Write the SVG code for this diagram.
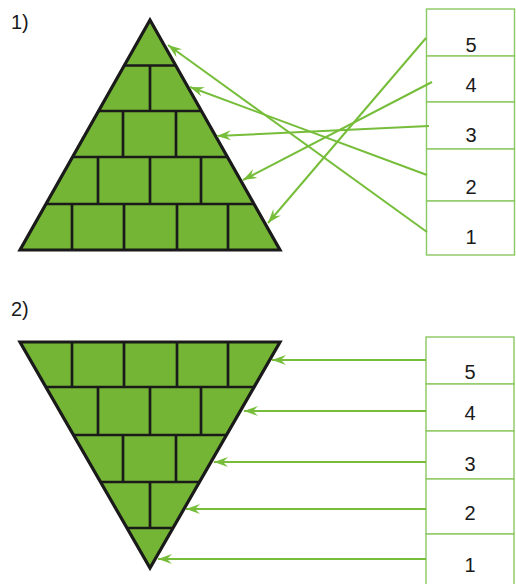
<svg xmlns="http://www.w3.org/2000/svg" width="516" height="584" viewBox="0 0 516 584">
<style>
.tri{fill:#74b535;stroke:#1a1a1a;stroke-width:3.2;stroke-linejoin:miter}
.brick{stroke:#1a1a1a;stroke-width:2.7;fill:none}
.con{stroke:#76bd3a;stroke-width:2;fill:none;marker-end:url(#ah)}
.cell{fill:#ffffff;stroke:#8cc862;stroke-width:1.4}
.lbl{font-family:"Liberation Sans",Arial,sans-serif;font-size:20px;fill:#1a1a1a;text-anchor:middle}
.num{font-family:"Liberation Sans",Arial,sans-serif;font-size:20px;fill:#1a1a1a}
</style>
<defs>
<marker id="ah" markerUnits="userSpaceOnUse" markerWidth="16" markerHeight="12" refX="14" refY="5" orient="auto">
<path d="M0,0 L14,5 L0,10 L5,5 Z" fill="#76bd3a"/>
</marker>
</defs>
<rect width="516" height="584" fill="#ffffff"/>
<text class="num" x="11" y="29">1)</text>
<text class="num" x="11" y="316">2)</text>
<g id="pyramid1">
<polygon class="tri" points="150,20 280,250 20,250"/>
<path class="brick" d="M124.6,65.5 H175.4 M98.6,111 H201.4 M72.4,157 H227.6 M46,204 H254 M150,65.5 V111 M123,111 V157 M176,111 V157 M98,157 V204 M150,157 V204 M201,157 V204 M72,204 V250 M124,204 V250 M177,204 V250 M228,204 V250"/>
</g>
<g id="pyramid2">
<polygon class="tri" points="20,342 280,342 150,568"/>
<path class="brick" d="M45.9,387 H254.1 M73.5,435 H226.5 M100.5,482 H199.5 M127,528 H173 M72,342 V387 M124,342 V387 M177,342 V387 M228,342 V387 M98,387 V435 M150,387 V435 M201,387 V435 M123,435 V482 M176,435 V482 M150,482 V528"/>
</g>
<g id="table1">
<rect class="cell" x="426.5" y="9" width="88" height="47"/>
<rect class="cell" x="426.5" y="56" width="88" height="46"/>
<rect class="cell" x="426.5" y="102" width="88" height="47"/>
<rect class="cell" x="426.5" y="149" width="88" height="52"/>
<rect class="cell" x="426.5" y="201" width="88" height="54"/>
<text class="lbl" x="471" y="52">5</text>
<text class="lbl" x="471" y="92">4</text>
<text class="lbl" x="471" y="142">3</text>
<text class="lbl" x="471" y="194">2</text>
<text class="lbl" x="471" y="244">1</text>
</g>
<g id="table2">
<rect class="cell" x="426" y="337" width="88" height="47"/>
<rect class="cell" x="426" y="384" width="88" height="47"/>
<rect class="cell" x="426" y="431" width="88" height="48"/>
<rect class="cell" x="426" y="479" width="88" height="55"/>
<rect class="cell" x="426" y="534" width="88" height="52"/>
<text class="lbl" x="470" y="379">5</text>
<text class="lbl" x="470" y="420">4</text>
<text class="lbl" x="470" y="471">3</text>
<text class="lbl" x="470" y="520">2</text>
<text class="lbl" x="470" y="572">1</text>
</g>
<g id="connectors">
<line class="con" x1="426" y1="38" x2="268" y2="223"/>
<line class="con" x1="432" y1="82" x2="243" y2="180"/>
<line class="con" x1="429" y1="126" x2="217" y2="136"/>
<line class="con" x1="427" y1="175" x2="190" y2="87"/>
<line class="con" x1="427" y1="232" x2="168" y2="45"/>
<line class="con" x1="426" y1="360" x2="272" y2="360"/>
<line class="con" x1="426" y1="411" x2="244" y2="411"/>
<line class="con" x1="426" y1="462" x2="214" y2="462"/>
<line class="con" x1="426" y1="509" x2="186" y2="509"/>
<line class="con" x1="426" y1="559" x2="158" y2="559"/>
</g>
</svg>
